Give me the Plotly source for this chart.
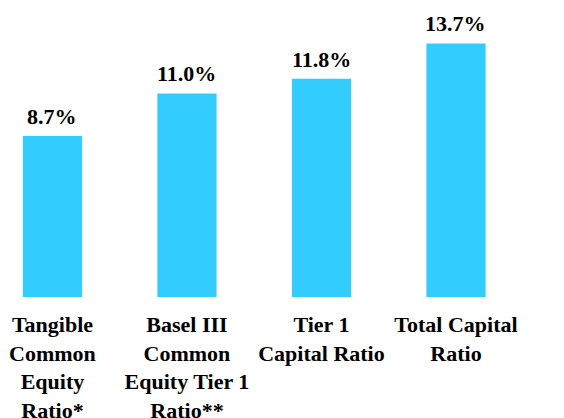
import plotly.graph_objects as go

categories = ["Tangible<br>Common<br>Equity<br>Ratio*",
              "Basel III<br>Common<br>Equity Tier 1<br>Ratio**",
              "Tier 1<br>Capital Ratio",
              "Total Capital<br>Ratio"]
values = [8.7, 11.0, 11.8, 13.7]
value_labels = ["8.7%", "11.0%", "11.8%", "13.7%"]

positions = list(range(len(categories)))
font_family = "Liberation Serif"

fig = go.Figure(go.Bar(
    x=positions, y=values, width=0.44,
    marker=dict(color="#33CCFF", line=dict(width=0)),
    hoverinfo="skip",
))

for p, v, lab in zip(positions, values, value_labels):
    fig.add_annotation(x=p, y=v, text="<b>%s</b>" % lab, showarrow=False,
                       yanchor="bottom", yshift=5,
                       font=dict(family=font_family, size=22, color="#000000"))

fig.update_layout(
    width=564, height=418,
    margin=dict(l=0, r=0, t=0, b=121),
    plot_bgcolor="white", paper_bgcolor="white",
    showlegend=False,
    font=dict(family=font_family),
    xaxis=dict(range=[-0.390, 3.803], tickvals=positions,
               ticktext=["<b>%s</b>" % c for c in categories],
               tickfont=dict(family=font_family, size=22, color="#000000"),
               showgrid=False, zeroline=False, showline=False, ticks="",
               ticklabelstandoff=12, automargin=False),
    yaxis=dict(range=[0, 16.05], visible=False, showgrid=False),
)

fig.write_html("out.html", config={"displayModeBar": False},
               post_script="document.body.style.margin='0';")
